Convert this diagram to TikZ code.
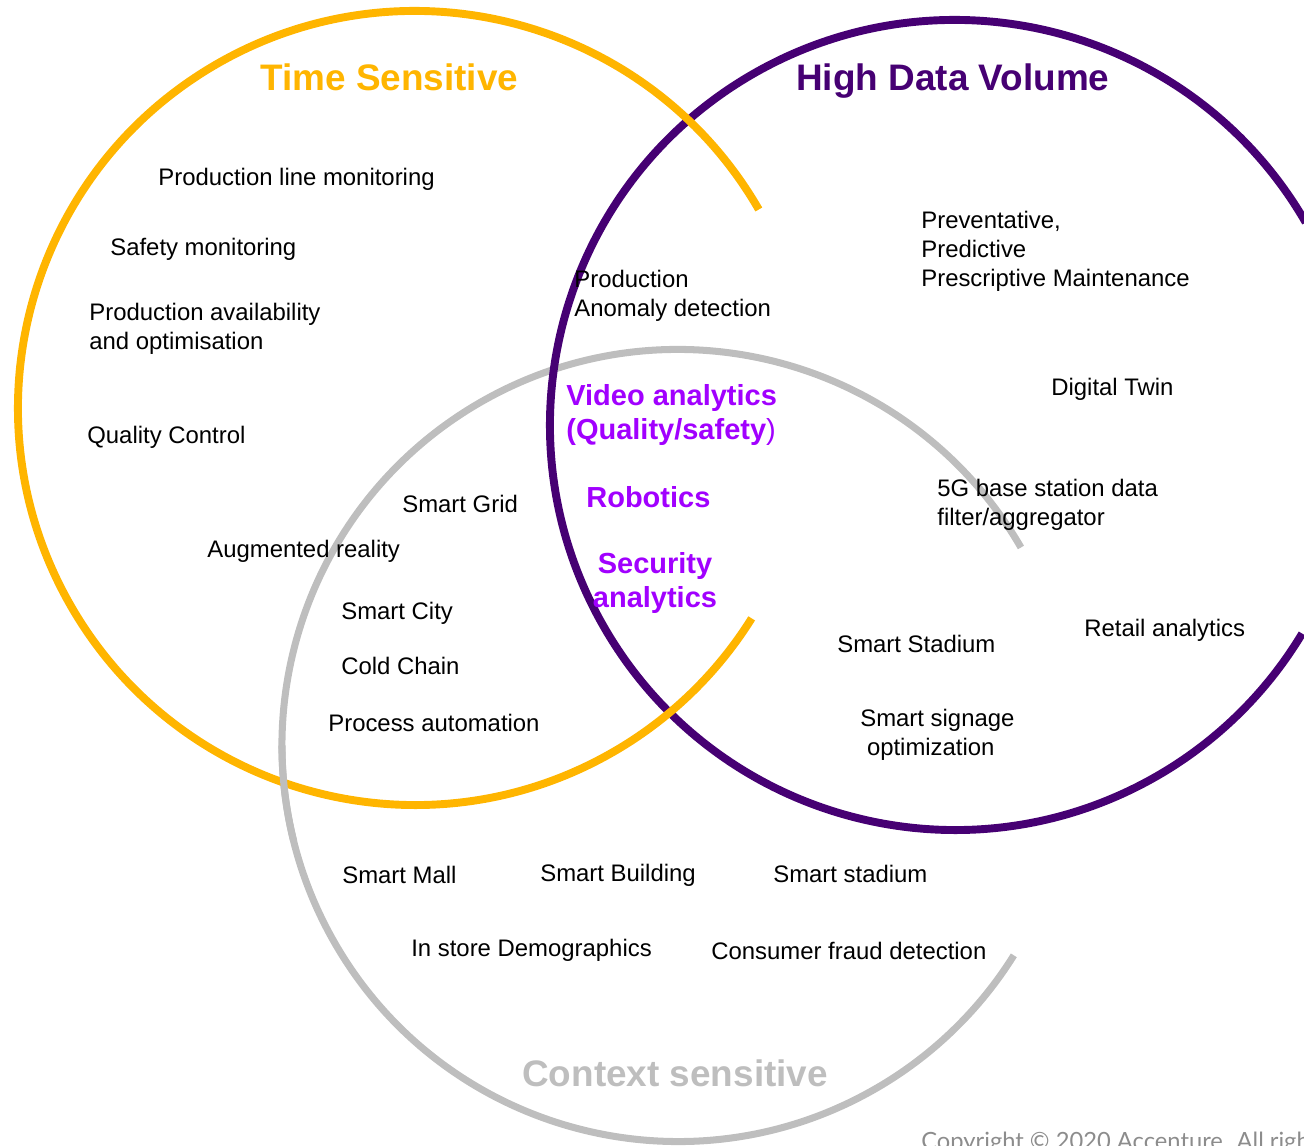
\documentclass[tikz,border=0pt]{standalone}
\usepackage{fontspec}
\setmainfont{Liberation Sans}
\newfontfamily\copyfont{Lato}
\definecolor{tsorange}{RGB}{255,181,0}
\definecolor{hdpurple}{RGB}{70,0,115}
\definecolor{ctgray}{RGB}{190,190,190}
\definecolor{vapurple}{RGB}{161,0,255}
\definecolor{cpgray}{RGB}{140,140,140}
\tikzset{
  ring/.style={line width=4.5pt},
  usecase/.style={font=\fontsize{13.6}{16.5}\selectfont, anchor=base west, align=left, inner sep=0pt},
  setname/.style={font=\fontsize{21}{25}\selectfont\bfseries, anchor=base west, inner sep=0pt},
  hotcase/.style={font=\fontsize{16.5}{19.8}\selectfont\bfseries, text=vapurple, inner sep=0pt}
}
\begin{document}
\begin{tikzpicture}
    \useasboundingbox (0,0) rectangle (26.08,22.92);
    % the three rings, each open on its right side
    \draw[ctgray, line width=4pt] (13.56,8.01) ++(30:7.92) arc (30:328:7.92);
    \draw[hdpurple, ring] (19.10,14.42) ++(30:8.10) arc (30:329:8.10);
    \draw[tsorange, ring] (8.30,14.76) ++(30:7.94) arc (30:328:7.94);
    \draw[ctgray, line width=4pt] (13.56,8.01) ++(180:7.92) arc (180:194:7.92);

    \node[setname, text=tsorange] (ts) at (5.20,21.10) {Time Sensitive};
    \node[setname, text=hdpurple] (hdv) at (15.92,21.10) {High Data Volume};
    \node[setname, text=ctgray] (cs) at (10.44,1.18) {Context sensitive};

    % multi-line nodes sit on the baseline of their last line
    \node[usecase] (plm) at (3.16,19.20) {Production line monitoring};
    \node[usecase] (sfm) at (2.20,17.80) {Safety monitoring};
    \node[usecase] (pao) at (1.78,15.92) {Production availability\\and optimisation};
    \node[usecase] (qc) at (1.74,14.04) {Quality Control};
    \node[usecase] (sgr) at (8.04,12.66) {Smart Grid};
    \node[usecase] (ar) at (4.14,11.76) {Augmented reality};
    \node[usecase] (scy) at (6.82,10.52) {Smart City};
    \node[usecase] (cch) at (6.82,9.42) {Cold Chain};
    \node[usecase] (pau) at (6.56,8.28) {Process automation};
    \node[usecase] (pad) at (11.48,16.58) {Production\\Anomaly detection};
    \node[usecase] (ppm) at (18.42,17.18) {Preventative,\\Predictive\\Prescriptive Maintenance};
    \node[usecase] (dtw) at (21.02,15.00) {Digital Twin};
    \node[usecase] (fgb) at (18.74,12.40) {5G base station data\\filter/aggregator};
    \node[usecase] (ran) at (21.68,10.18) {Retail analytics};
    \node[usecase] (sst) at (16.74,9.86) {Smart Stadium};
    \node[usecase] (ssg) at (17.20,7.80) {Smart signage\\\hspace*{0.278em}optimization};
    \node[usecase] (sml) at (6.84,5.24) {Smart Mall};
    \node[usecase] (sbd) at (10.80,5.28) {Smart Building};
    \node[usecase] (sts) at (15.46,5.26) {Smart stadium};
    \node[usecase] (isd) at (8.22,3.78) {In store Demographics};
    \node[usecase] (cfd) at (14.22,3.72) {Consumer fraud detection};

    \node[hotcase, anchor=base west, align=left] (vid) at (11.32,14.12) {Video analytics\\(Quality/safety{\mdseries)}};
    \node[hotcase, anchor=base west] (rob) at (11.72,12.76) {Robotics};
    \node[hotcase, anchor=base, align=center] (sec) at (13.10,10.76) {Security\\analytics};

    \node[font=\copyfont\fontsize{13.5}{16}\selectfont, text=cpgray, anchor=base west, inner sep=0pt] (cpy) at (18.42,-0.08) {Copyright © 2020 Accenture. All rights reserved.};
\end{tikzpicture}
\end{document}
